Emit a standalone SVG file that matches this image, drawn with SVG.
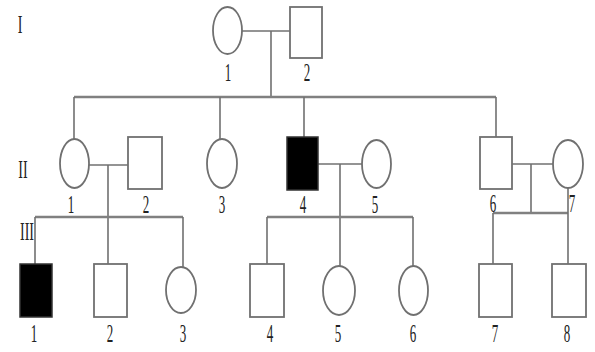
<svg xmlns="http://www.w3.org/2000/svg" width="595" height="352" viewBox="0 0 595 352">
<style>
.ln{stroke:#707070;stroke-width:1.6;fill:none}
.sib{stroke:#808080;stroke-width:2.6;fill:none}
.f{fill:#fff;stroke:#707070;stroke-width:1.8}
.a{fill:#000;stroke:#333;stroke-width:1.5}
text{font-family:"Liberation Serif","Times New Roman",serif;font-size:20px;fill:#222;text-anchor:middle}
</style>
<rect width="595" height="352" fill="#fff"/>
<g id="connectors">
<line class="ln" x1="242" y1="31" x2="290" y2="31"/>
<line class="ln" x1="271" y1="31" x2="271" y2="97"/>
<line class="sib" x1="74" y1="97" x2="496" y2="97"/>
<line class="ln" x1="74" y1="97" x2="74" y2="139"/>
<line class="ln" x1="220" y1="97" x2="220" y2="139"/>
<line class="ln" x1="304" y1="97" x2="304" y2="137"/>
<line class="ln" x1="496" y1="97" x2="496" y2="137"/>
<line class="ln" x1="89" y1="165" x2="128" y2="165"/>
<line class="ln" x1="108" y1="165" x2="108" y2="264"/>
<line class="sib" x1="35" y1="217" x2="183" y2="217"/>
<line class="ln" x1="35" y1="217" x2="35" y2="264"/>
<line class="ln" x1="183" y1="217" x2="183" y2="267"/>
<line class="ln" x1="318" y1="164" x2="362" y2="164"/>
<line class="ln" x1="340" y1="164" x2="340" y2="266"/>
<line class="sib" x1="267" y1="217" x2="413" y2="217"/>
<line class="ln" x1="267" y1="217" x2="267" y2="264"/>
<line class="ln" x1="413" y1="217" x2="413" y2="266"/>
<line class="ln" x1="512" y1="164" x2="553" y2="164"/>
<line class="ln" x1="531" y1="164" x2="531" y2="213"/>
<line class="sib" x1="493" y1="213" x2="568" y2="213"/>
<line class="ln" x1="493" y1="213" x2="493" y2="264"/>
<line class="ln" x1="568" y1="188" x2="568" y2="264"/>
</g>
<g id="gen-labels">
<text transform="translate(20,33) scale(0.7,1.3)">I</text>
<text transform="translate(23,178) scale(0.7,1.3)">II</text>
<text transform="translate(27,240) scale(0.7,1.3)">III</text>
</g>
<g id="I-1"><ellipse class="f" cx="227.5" cy="30.5" rx="14.5" ry="23.5"/><text transform="translate(228,81) scale(0.65,1.3)">1</text></g>
<g id="I-2"><rect class="f" x="290" y="7" width="32" height="51"/><text transform="translate(307,81) scale(0.65,1.3)">2</text></g>
<g id="II-1"><ellipse class="f" cx="74.5" cy="163.5" rx="14.5" ry="24.5"/><text transform="translate(71,213) scale(0.65,1.3)">1</text></g>
<g id="II-2"><rect class="f" x="128" y="137" width="34" height="52"/><text transform="translate(146,213) scale(0.65,1.3)">2</text></g>
<g id="II-3"><ellipse class="f" cx="222" cy="163.5" rx="15" ry="24.5"/><text transform="translate(222,213) scale(0.65,1.3)">3</text></g>
<g id="II-4"><rect class="a" x="287" y="137" width="31" height="53"/><text transform="translate(303,213) scale(0.65,1.3)">4</text></g>
<g id="II-5"><ellipse class="f" cx="376.5" cy="164" rx="14.5" ry="24"/><text transform="translate(375,213) scale(0.65,1.3)">5</text></g>
<g id="II-6"><rect class="f" x="480" y="137" width="32" height="52"/><text transform="translate(493,212) scale(0.65,1.3)">6</text></g>
<g id="II-7"><ellipse class="f" cx="568" cy="164" rx="15" ry="24"/><text transform="translate(572,212) scale(0.65,1.3)">7</text></g>
<g id="III-1"><rect class="a" x="20" y="264" width="32" height="53"/><text transform="translate(34,342) scale(0.65,1.3)">1</text></g>
<g id="III-2"><rect class="f" x="94" y="264" width="33" height="53"/><text transform="translate(110,342) scale(0.65,1.3)">2</text></g>
<g id="III-3"><ellipse class="f" cx="181" cy="290" rx="15" ry="23"/><text transform="translate(183,342) scale(0.65,1.3)">3</text></g>
<g id="III-4"><rect class="f" x="250" y="264" width="34" height="53"/><text transform="translate(270,342) scale(0.65,1.3)">4</text></g>
<g id="III-5"><ellipse class="f" cx="339" cy="290.5" rx="16" ry="24.5"/><text transform="translate(338,342) scale(0.65,1.3)">5</text></g>
<g id="III-6"><ellipse class="f" cx="413.5" cy="290.5" rx="14.5" ry="24.5"/><text transform="translate(413,342) scale(0.65,1.3)">6</text></g>
<g id="III-7"><rect class="f" x="479" y="264" width="33" height="53"/><text transform="translate(495,342) scale(0.65,1.3)">7</text></g>
<g id="III-8"><rect class="f" x="552" y="264" width="34" height="53"/><text transform="translate(567,342) scale(0.65,1.3)">8</text></g>
</svg>
